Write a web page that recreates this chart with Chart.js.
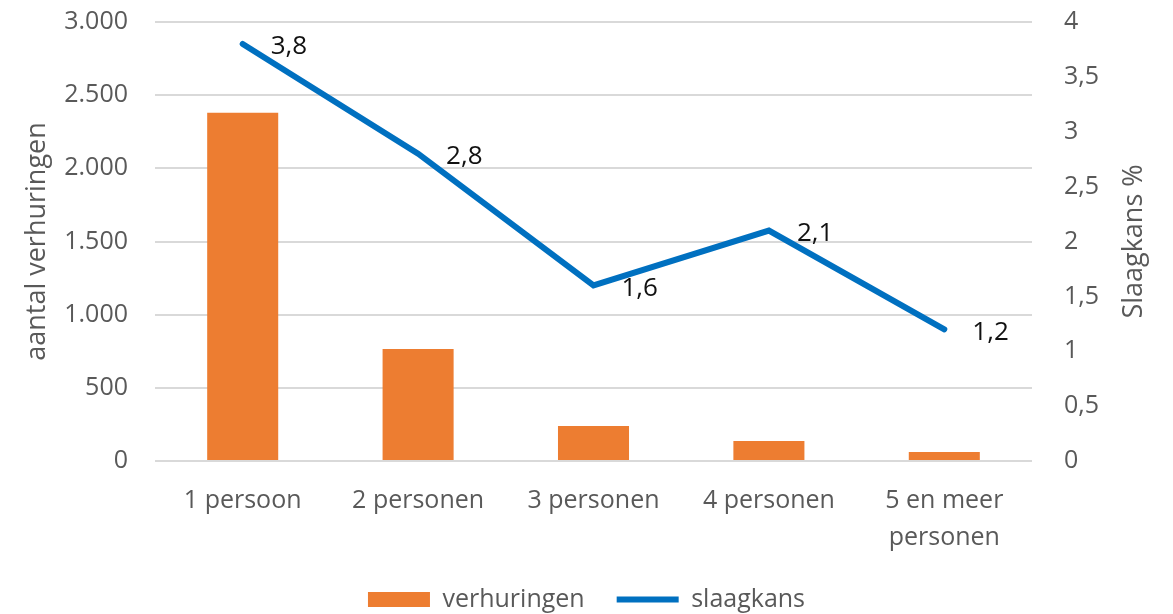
<!DOCTYPE html>
<html>
<head>
<meta charset="utf-8">
<script src="https://cdn.jsdelivr.net/npm/chart.js@4/dist/chart.umd.min.js"></script>
<style>
  body { margin: 0; background: #fff; }
  #wrap { width: 1173px; height: 614px; }
</style>
</head>
<body>
<div id="wrap"><canvas id="huishoudchart"></canvas></div>
<script>
var categories = ['1 persoon', '2 personen', '3 personen', '4 personen', ['5 en meer', 'personen']];
var verhuringen = [2380, 765, 240, 137, 62];
var slaagkans = [3.8, 2.8, 1.6, 2.1, 1.2];
var leftTickLabels = ['0', '500', '1.000', '1.500', '2.000', '2.500', '3.000'];
var rightTickLabels = ['0', '0,5', '1', '1,5', '2', '2,5', '3', '3,5', '4'];

var grey = '#595959';
var font = "'Open Sans', sans-serif";

// waardelabels rechts naast de punten van de lijn
var lineLabels = {
  id: 'lineLabels',
  afterDatasetsDraw: function (chart) {
    var ctx = chart.ctx;
    var meta = chart.getDatasetMeta(1);
    ctx.save();
    ctx.font = '26px ' + font;
    ctx.fillStyle = '#111';
    ctx.textAlign = 'left';
    ctx.textBaseline = 'middle';
    meta.data.forEach(function (pt, i) {
      ctx.fillText(String(slaagkans[i]).replace('.', ','), pt.x + 28, pt.y + 3);
    });
    ctx.restore();
  }
};

// titel rechter as, leest van onder naar boven
var rightTitle = {
  id: 'rightTitle',
  afterDraw: function (chart) {
    var s = chart.scales.y1;
    var ctx = chart.ctx;
    ctx.save();
    ctx.translate(1134, (s.top + s.bottom) / 2);
    ctx.rotate(-Math.PI / 2);
    ctx.font = '27px ' + font;
    ctx.fillStyle = grey;
    ctx.textAlign = 'center';
    ctx.textBaseline = 'middle';
    ctx.fillText('Slaagkans %', 0, 0);
    ctx.restore();
  }
};

// tick padding mag de bovenrand niet omlaag duwen
function fixPad(s) {
  s.paddingTop = 15;
  s.paddingBottom = 15;
}

var ctx = document.getElementById('huishoudchart').getContext('2d');
var chart = new Chart(ctx, {
  type: 'bar',
  data: {
    labels: categories,
    datasets: [{
      type: 'bar',
      label: 'verhuringen',
      data: verhuringen,
      backgroundColor: '#ED7D31',
      borderWidth: 0,
      pointStyle: 'rect',
      yAxisID: 'y',
      order: 1,
      categoryPercentage: 1,
      barPercentage: 0.405
    }, {
      type: 'line',
      label: 'slaagkans',
      data: slaagkans,
      borderColor: '#0070C0',
      backgroundColor: '#0070C0',
      borderWidth: 6,
      borderCapStyle: 'round',
      borderJoinStyle: 'miter',
      pointRadius: 0,
      pointHoverRadius: 0,
      pointStyle: 'line',
      fill: false,
      tension: 0,
      yAxisID: 'y1',
      order: 0
    }]
  },
  options: {
    responsive: true,
    maintainAspectRatio: false,
    animation: false,
    layout: { padding: { top: 22, left: 0, right: 0, bottom: -8 } },
    plugins: {
      tooltip: { enabled: false },
      legend: {
        position: 'bottom',
        labels: {
          usePointStyle: true,
          pointStyleWidth: 62,
          boxHeight: 15,
          padding: 32,
          color: grey,
          font: { family: font, size: 25 },
          sort: function (a, b) { return a.datasetIndex - b.datasetIndex; }
        }
      }
    },
    scales: {
      x: {
        offset: true,
        grid: { display: false },
        border: { display: false },
        ticks: {
          color: grey,
          padding: 13,
          maxRotation: 0,
          font: { family: font, size: 25, lineHeight: 1.5 }
        },
        afterFit: function (s) { s.height = 94; }
      },
      y: {
        position: 'left',
        min: 0,
        max: 3000,
        grid: { color: '#d9d9d9', lineWidth: 2, drawTicks: false },
        border: { display: false },
        ticks: {
          stepSize: 500,
          color: grey,
          padding: 27,
          font: { family: font, size: 25 },
          callback: function (v, i) { return leftTickLabels[i]; }
        },
        title: {
          display: true,
          text: 'aantal verhuringen',
          color: grey,
          padding: { top: 21, bottom: 0 },
          font: { family: font, size: 27 }
        },
        afterFit: function (s) { s.width = 155; fixPad(s); }
      },
      y1: {
        position: 'right',
        min: 0,
        max: 4,
        grid: { display: false, drawTicks: false },
        border: { display: false },
        ticks: {
          stepSize: 0.5,
          color: grey,
          padding: 32,
          font: { family: font, size: 25 },
          callback: function (v, i) { return rightTickLabels[i]; }
        },
        afterFit: function (s) { s.width = 141; fixPad(s); }
      }
    }
  },
  plugins: [lineLabels, rightTitle]
});
</script>
</body>
</html>
